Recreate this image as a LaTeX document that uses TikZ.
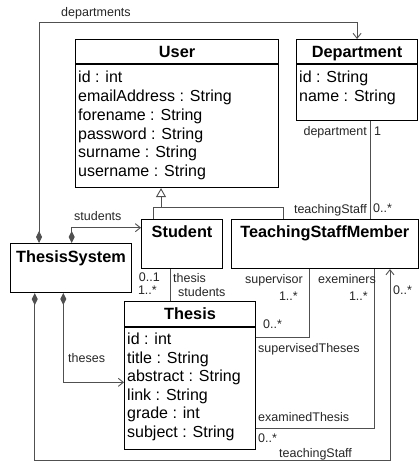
\documentclass[tikz,border=0pt]{standalone}
\usepackage{fontspec}
\setmainfont{Liberation Sans}
\usetikzlibrary{arrows.meta}
\definecolor{linegray}{HTML}{505050}
\tikzset{
  classbox/.style={draw=black, line width=1.1pt, anchor=north west, inner sep=0pt},
  classname/.style={font=\fontsize{16.3}{19}\selectfont\bfseries, anchor=base, inner sep=0pt},
  attr/.style={font=\fontsize{16}{18.7}\selectfont, anchor=base west, inner sep=0pt},
  role/.style={font=\fontsize{12.5}{14}\selectfont, text=black!85, inner sep=0pt},
  assoc/.style={draw=linegray, line width=0.9pt},
  comp/.style={assoc, {Diamond[length=12pt,width=6pt]}-{Straight Barb[length=5pt,width=8pt]}},
  inherit/.style={assoc, -{Triangle[open,length=9pt,width=10pt,fill=white]}}
}
\begin{document}
\begin{tikzpicture}[x=1pt,y=-1pt]
      \useasboundingbox (0,0) rectangle (419,462);
      % classes
      \node[classbox, minimum width=203pt, minimum height=148pt] (user) at (75,39) {};
      \node[classbox, minimum width=121pt, minimum height=81pt] (dep) at (296,39) {};
      \node[classbox, minimum width=81pt, minimum height=49pt] (student) at (141,219) {};
      \node[classbox, minimum width=186.5pt, minimum height=49pt] (tsm) at (231,219) {};
      \node[classbox, minimum width=121pt, minimum height=49pt] (sys) at (10,243) {};
      \node[classbox, minimum width=131pt, minimum height=148pt] (thesis) at (124,301) {};
      \draw[line width=1.1pt] (75,64) -- (278,64);
      \draw[line width=1.1pt] (296,64) -- (417,64);
      \draw[line width=1.1pt] (124,327) -- (255,327);
      \node[classname] (user-n) at ([yshift=-18.3pt]user.north) {User};
      \node[classname] (dep-n) at ([yshift=-18.3pt]dep.north) {Department};
      \node[classname] (student-n) at ([yshift=-18.5pt]student.north) {Student};
      \node[classname] (tsm-n) at ([yshift=-18.5pt]tsm.north) {TeachingStaffMember};
      \node[classname] (sys-n) at ([yshift=-19.2pt]sys.north) {ThesisSystem};
      \node[classname] (thesis-n) at ([yshift=-18.7pt]thesis.north) {Thesis};
      % attributes
      \foreach \a [count=\i from 0] in {id : int, emailAddress : String,
          forename : String, password : String, surname : String, username : String}
        \node[attr] (user-a\i) at (78,{83+18.7*\i}) {\a};
      \foreach \a [count=\i from 0] in {id : String, name : String}
        \node[attr] (dep-a\i) at (299,{83+18.7*\i}) {\a};
      \foreach \a [count=\i from 0] in {id : int, title : String, abstract : String,
          link : String, grade : int, subject : String}
        \node[attr] (thesis-a\i) at (127,{344.8+18.5*\i}) {\a};
      % generalization
      \coordinate (gen) at (161,207.7);
      \draw[assoc] ([xshift=12pt]student.north west) -- ++(0,-11.3) -| ([xshift=52pt]tsm.north west);
      \draw[inherit] (gen) -- (gen |- user.south);
      % associations
      \begin{scope}
        \draw[comp] ([xshift=29pt]sys.north west) -- ++(0,-220.3) -| (dep.north);
        \draw[comp] ([xshift=61.7pt]sys.north west) |- ([yshift=-8.7pt]student.north west);
        \draw[comp] ([xshift=53.3pt]sys.south west) |- ([yshift=-81.3pt]thesis.north west);
        \draw[comp] ([xshift=24.7pt]sys.south west) -- ++(0,167.5) -| ([xshift=159pt]tsm.south west);
        \draw[assoc] ([xshift=74pt]dep.south west) -- ([xshift=139pt]tsm.north west);
        \draw[assoc] ([xshift=29pt]student.south west) -- ([xshift=46pt]thesis.north west);
        \draw[assoc] ([xshift=78pt]tsm.south west) |- ([yshift=-36.3pt]thesis.north east);
        \draw[assoc] ([xshift=143pt]tsm.south west) |- ([yshift=-127.3pt]thesis.north east);
      \end{scope}
      % role names and multiplicities
      \node[role, anchor=base west] (l-deps) at (61,16.5) {departments};
      \node[role, anchor=base west] (l-studs) at (74,220.5) {students};
      \node[role, anchor=base west] (l-theses) at (68,362) {theses};
      \node[role, anchor=base east] (l-dep) at (367,135.5) {department};
      \node[role, anchor=base west] (m-dep) at (374,135.5) {1};
      \node[role, anchor=base east] (l-staff) at (367,213.5) {teachingStaff};
      \node[role, anchor=base west] (m-staff) at (373,212.5) {0..*};
      \node[role, anchor=base east] (m-stthesis) at (160,281.5) {0..1};
      \node[role, anchor=base east] (m-ststud) at (157,294.5) {1..*};
      \node[role, anchor=base west] (l-thesis) at (173,282.5) {thesis};
      \node[role, anchor=base west] (l-stud) at (178,296.5) {students};
      \node[role, anchor=base east] (l-sup) at (303,283.5) {supervisor};
      \node[role, anchor=base east] (m-sup) at (298,300) {1..*};
      \node[role, anchor=base west] (m-supth) at (263,328.5) {0..*};
      \node[role, anchor=base west] (l-supth) at (258,352.5) {supervisedTheses};
      \node[role, anchor=base west] (l-exam) at (318,283.5) {exeminers};
      \node[role, anchor=base east] (m-exam) at (368,300) {1..*};
      \node[role, anchor=base west] (m-sysstaff) at (393,294.5) {0..*};
      \node[role, anchor=base west] (l-examth) at (258,421) {examinedThesis};
      \node[role, anchor=base west] (m-examth) at (258,442.5) {0..*};
      \node[role, anchor=base west] (l-sysstaff) at (279,457.5) {teachingStaff};
    \end{tikzpicture}
\end{document}
